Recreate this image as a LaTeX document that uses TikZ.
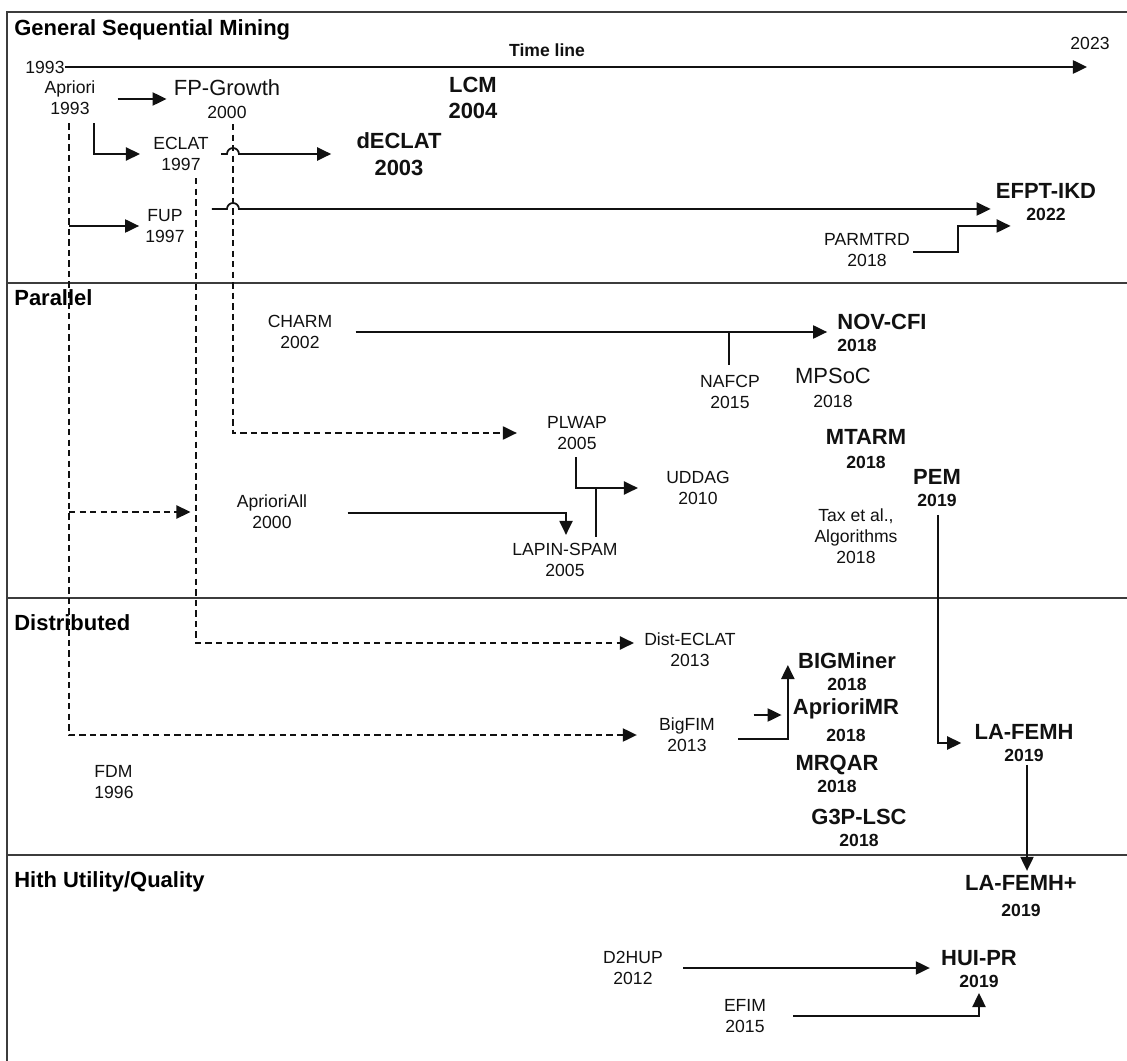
\documentclass[tikz,border=0pt]{standalone}
\usepackage{fontspec}
\setmainfont{Liberation Sans}
\usepackage{tikz}
\usetikzlibrary{arrows.meta,positioning,calc}
\definecolor{cK}{HTML}{111111}
\definecolor{cG}{HTML}{3c3c3c}
\newcommand{\algyear}[1]{{\fontsize{10}{12}\selectfont #1}}
\tikzset{
  lane/.style={anchor=base west,inner sep=0pt,font=\bfseries\fontsize{12.5}{15}\selectfont},
  alg/.style={align=center,inner sep=0pt,text=cK,font=\fontsize{10}{12}\selectfont},
  bigalg/.style={alg,font=\fontsize{12.5}{13.3}\selectfont},
  keyalg/.style={alg,font=\bfseries\fontsize{12.5}{12.5}\selectfont},
  oldkey/.style={alg,font=\bfseries\fontsize{12.5}{15}\selectfont},
  flow/.style={-{Triangle[length=8pt,width=7.5pt]},line width=1pt,cK},
  dflow/.style={flow,dash pattern=on 3.6pt off 2.4pt},
  link/.style={line width=1pt,cK},
  laneline/.style={line width=1.2pt,cG},
}

\begin{document}
\begin{tikzpicture}[x=0.02cm,y=-0.02cm]
  \useasboundingbox (0,0) rectangle (1127,1061);
  \fill[white] (0,0) rectangle (1127,1061);
  \clip (0,0) rectangle (1127,1061);
  % lanes
  \draw[laneline] (7,1080) -- (7,12) -- (1140,12);
  \foreach \y in {283,598,855}
    \draw[laneline] (7,\y) -- (1140,\y);
  \node[lane] (gsm) at (14,36) {General Sequential Mining};
  \node[lane] (par) at (14,305) {Parallel};
  \node[lane] (dist) at (14,630) {Distributed};
  \node[lane] (hq) at (14,887) {Hith Utility/Quality};

  % time line
  \node[alg] (t0) at (45,67) {1993};
  \node[alg] (t1) at (1090,43) {2023};
  \node[alg,font=\bfseries\fontsize{10}{12}\selectfont] (tl) at (547,50) {Time line};
  \draw[flow,line width=1.2pt] (t0.east) -- ($(t0.east -| t1)+(-3,0)$);

  % algorithms
  \node[alg] (apriori) at (70,98) {Apriori\\1993};
  \node[bigalg] (fpg) at (227,99) {FP-Growth\\\algyear{2000}};
  \node[oldkey] (lcm) at (473,98) {LCM\\2004};
  \node[alg] (eclat) at (181,154) {ECLAT\\1997};
  \node[oldkey] (declat) at (399,154) {dECLAT\\2003};
  \node[alg] (fup) at (165,226) {FUP\\1997};
  \node[keyalg] (efpt) at (1046,202) {EFPT-IKD\\\algyear{2022}};
  \node[alg] (parmtrd) at (867,250) {PARMTRD\\2018};
  \node[alg] (charm) at (300,332) {CHARM\\2002};
  \node[keyalg,align=left] (novcfi) at (882,333) {NOV-CFI\\\algyear{2018}};
  \node[alg] (nafcp) at (730,392) {NAFCP\\2015};
  \node[bigalg] (mpsoc) at (833,388) {MPSoC\\\algyear{2018}};
  \node[alg] (plwap) at (577,433) {PLWAP\\2005};
  \node[keyalg] (mtarm) at (866,449) {MTARM\\[1.3pt]\algyear{2018}};
  \node[alg] (uddag) at (698,488) {UDDAG\\2010};
  \node[keyalg] (pem) at (937,488) {PEM\\\algyear{2019}};
  \node[alg] (aprioriall) at (272,512) {AprioriAll\\2000};
  \node[alg] (tax) at (856,536) {Tax et al.,\\Algorithms\\2018};
  \node[alg] (lapin) at (565,560) {LAPIN-SPAM\\2005};
  \node[alg] (disteclat) at (690,650) {Dist-ECLAT\\2013};
  \node[keyalg] (bigminer) at (847,672) {BIGMiner\\\algyear{2018}};
  \node[keyalg] (apriorimr) at (846,720) {AprioriMR\\[2.5pt]\algyear{2018}};
  \node[alg] (bigfim) at (687,735) {BigFIM\\2013};
  \node[keyalg] (lafemh) at (1024,743) {LA-FEMH\\\algyear{2019}};
  \node[keyalg] (mrqar) at (837,774) {MRQAR\\\algyear{2018}};
  \node[alg,align=left] (fdm) at (114,782) {FDM\\1996};
  \node[keyalg] (g3p) at (859,828) {G3P-LSC\\\algyear{2018}};
  \node[keyalg] (lafemhp) at (1021,896) {LA-FEMH+\\[2.5pt]\algyear{2019}};
  \node[alg] (d2hup) at (633,968) {D2HUP\\2012};
  \node[keyalg] (huipr) at (979,969) {HUI-PR\\\algyear{2019}};
  \node[alg] (efim) at (745,1016) {EFIM\\2015};

  % drop points of the dashed lines
  \coordinate (atrunk) at ($(apriori.south)+(-1,8)$);
  \coordinate (edrop) at ($(eclat.south)+(15,7)$);
  \coordinate (fdrop) at ($(fpg.south)+(6,5)$);

  % general
  \draw[flow] ($(apriori.east |- fpg.west)+(22,0)$) -- ($(fpg.west)+(-7,0)$);
  \draw[flow] ($(apriori.south east)+(-2,8)$) |- ($(eclat.west)+(-13,0)$);
  \draw[flow] (atrunk |- fup) -- ($(fup.west)+(-6,0)$);
  \draw[flow] ($(eclat.east)+(12,0)$) -- ($(fdrop |- eclat)+(-6,0)$)
    arc[start angle=180,end angle=0,radius=3.4pt] -- ($(declat.west)+(-25,0)$);
  \draw[flow] ($(fup.north east)+(27,0)$) -- ($(fdrop |- fup.north)+(-6,0)$)
    arc[start angle=180,end angle=0,radius=3.4pt] -- ($(efpt.west |- fup.north)+(-5,0)$);
  \draw[flow] ($(parmtrd.east)+(3,2)$) -- ++(45,0) |- ($(efpt.south west)+(15,5)$);

  % dashed lines
  \draw[dflow] (atrunk) |- ($(bigfim.west)+(-22,0)$);
  \draw[dflow] (atrunk |- aprioriall) -- ($(aprioriall.west)+(-46,0)$);
  \draw[dflow] (edrop) |- ($(disteclat.west)+(-10,-7)$);
  \draw[dflow] (fdrop) |- ($(plwap.west)+(-30,0)$);

  % parallel
  \draw[flow] ($(charm.east)+(23,0)$) -- ($(novcfi.west |- charm.east)+(-10,0)$);
  \coordinate (nf) at ($(nafcp.north)+(-1,-10)$);
  \draw[link] (nf) -- (nf |- charm);
  \draw[flow] ($(plwap.south)+(-1,7)$) |- ($(uddag.west)+(-28,0)$);
  \coordinate (lp) at ($(lapin.north)+(31,-6)$);
  \draw[link] (lp) -- (lp |- uddag);
  \draw[flow] ($(aprioriall.east)+(40,1)$) -| ($(lapin.north)+(1,-8)$);
  \draw[flow] ($(pem.south)+(1,8)$) |- ($(lafemh.west)+(-13,0)$);

  % distributed
  \draw[flow] ($(bigfim.east)+(23,4)$) -| ($(bigminer.west)+(-10,-7)$);
  \coordinate (mrin) at ($(apriorimr.west)+(-39,-5)$);
  \draw[flow] (mrin) -- ($(apriorimr.west)+(-11,-5)$);
  \coordinate (lf) at ($(lafemh.south)+(3,3)$);
  \draw[flow] (lf) -- ($(lf |- lafemhp.north)+(0,-4)$);

  % utility
  \draw[flow] ($(d2hup.east)+(20,0)$) -- ($(huipr.west |- d2hup.east)+(-11,0)$);
  \draw[flow] ($(efim.east)+(27,0)$) -| ($(huipr.south)+(0,5)$);
\end{tikzpicture}
\end{document}
